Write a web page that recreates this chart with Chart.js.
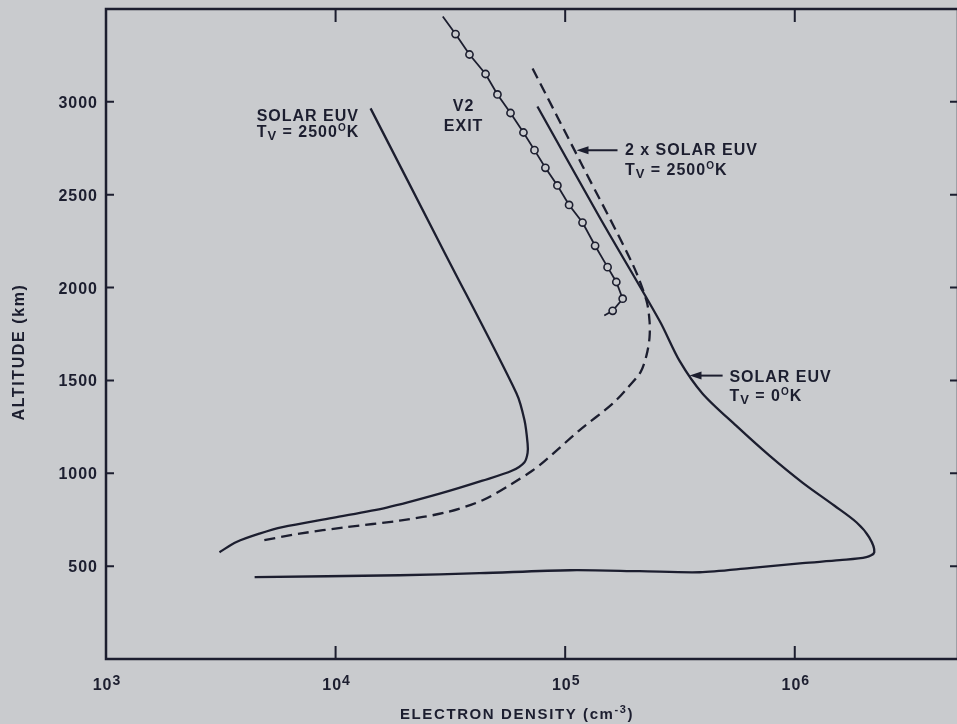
<!DOCTYPE html>
<html>
<head>
<meta charset="utf-8">
<script src="https://cdn.jsdelivr.net/npm/chart.js@4.4.1/dist/chart.umd.min.js"></script>
<style>
  html, body { margin: 0; padding: 0; background: #c9cbce; overflow: hidden; }
  #profile { display: block; }
</style>
</head>
<body>
<canvas id="profile" width="960" height="724"></canvas>
<script>
// electron density (cm-3) vs altitude (km)

// solar EUV, Tv = 2500 K
const euv2500Density = [1.42e4, 2.95e4, 6.14e4, 6.65e4, 6.86e4, 6.86e4, 6.65e4, 5.89e4,
                        4.36e4, 2.84e4, 1.67e4, 9.7e3, 5.87e3, 4.66e3, 3.7e3, 3.12e3];
const euv2500Alt = [2965, 2200, 1430, 1285, 1160, 1110, 1060, 1015,
                    960, 890, 815, 760, 710, 675, 630, 575];

// 2 x solar EUV, Tv = 2500 K (dashed)
const euv2xDensity = [7.21e4, 1.19e5, 1.96e5, 2.26e5, 2.33e5, 2.33e5, 2.26e5, 2.13e5, 1.87e5, 1.61e5,
                      1.15e5, 8.13e4, 7.21e4, 5.89e4, 4.37e4, 3.04e4, 1.9e4, 1.11e4, 6.97e3, 4.67e3];
const euv2xAlt = [3180, 2655, 2130, 1930, 1820, 1730, 1635, 1545, 1460, 1375,
                  1230, 1065, 1015, 945, 855, 790, 745, 710, 675, 635];

// solar EUV, Tv = 0 K
const euv0Density = [7.57e4, 1.41e5, 2.58e5, 3.15e5, 3.96e5, 5.57e5, 7.76e5, 1.08e6, 1.49e6, 1.86e6,
                     2.11e6, 2.22e6, 2.05e6, 1.57e6, 1.08e6, 6.35e5, 3.85e5, 2.11e5, 1.05e5, 4.24e4,
                     1.9e4, 4.44e3];
const euv0Alt = [2975, 2380, 1820, 1605, 1430, 1255, 1095, 950, 825, 735,
                 655, 575, 548, 532, 516, 489, 467, 473, 478, 462,
                 451, 441];

// V2 exit measurements
const v2Density = [2.93e4, 3.33e4, 3.83e4, 4.5e4, 5.07e4, 5.78e4, 6.58e4, 7.35e4, 8.2e4, 9.25e4,
                   1.04e5, 1.19e5, 1.35e5, 1.53e5, 1.67e5, 1.78e5, 1.61e5, 1.48e5];
const v2Alt = [3460, 3365, 3255, 3150, 3040, 2940, 2835, 2740, 2645, 2550,
               2445, 2350, 2225, 2110, 2030, 1940, 1875, 1850];

const xTicks = [1e3, 1e4, 1e5, 1e6];
const yTicks = [500, 1000, 1500, 2000, 2500, 3000];

const ink = '#1c1e2f';
const paper = '#c9cbce';
const FONT = '"Liberation Sans", Arial, sans-serif';

function pts(xs, ys) {
    return xs.map((v, i) => ({ x: v, y: ys[i] }));
}

// text pieces: [text, size, dy]
function drawRuns(ctx, runs, x, y, align) {
    let w = 0;
    runs.forEach(r => { ctx.font = 'bold ' + r[1] + 'px ' + FONT; w += ctx.measureText(r[0]).width; });
    let cx = align === 'center' ? x - w / 2 : x;
    runs.forEach(r => {
        ctx.font = 'bold ' + r[1] + 'px ' + FONT;
        ctx.fillText(r[0], cx, y + (r[2] || 0));
        cx += ctx.measureText(r[0]).width;
    });
}

function tvLine(temp) {
    return [['T', 16], ['V', 13, 3], [' = ' + temp, 16], ['O', 10, -6], ['K', 16]];
}

const labels = [
    { x: 4.53e3, y: 2896, gap: 16, align: 'left', lines: [[['SOLAR EUV', 16]], tvLine('2500')] },
    { x: 3.61e4, y: 2950, gap: 20, align: 'center', lines: [[['V2', 16]], [['EXIT', 16]]] },
    { x: 1.82e5, y: 2713, gap: 20, align: 'left', lines: [[['2 x SOLAR EUV', 16]], tvLine('2500')] },
    { x: 5.19e5, y: 1494, gap: 19, align: 'left', lines: [[['SOLAR EUV', 16]], tvLine('0')] }
];

const arrows = [
    { from: [1.69e5, 2740], to: [1.12e5, 2740] },
    { from: [4.85e5, 1526], to: [3.48e5, 1526] }
];

const decorations = {
    id: 'decorations',
    beforeDraw(chart) {
        const ctx = chart.ctx;
        ctx.save();
        ctx.fillStyle = paper;
        ctx.fillRect(0, 0, chart.width, chart.height);
        ctx.restore();
    },
    afterDraw(chart) {
        const { ctx, chartArea: a } = chart;
        const sx = chart.scales.x, sy = chart.scales.y;
        ctx.save();
        ctx.strokeStyle = ink;
        ctx.fillStyle = ink;
        ctx.lineCap = 'butt';

        // frame
        ctx.lineWidth = 2.5;
        ctx.strokeRect(a.left, a.top, a.right - a.left, a.bottom - a.top);

        // inward ticks
        ctx.lineWidth = 2;
        ctx.beginPath();
        xTicks.slice(1).forEach(v => {
            const px = sx.getPixelForValue(v);
            ctx.moveTo(px, a.bottom); ctx.lineTo(px, a.bottom - 13);
            ctx.moveTo(px, a.top); ctx.lineTo(px, a.top + 13);
        });
        yTicks.forEach(v => {
            const py = sy.getPixelForValue(v);
            ctx.moveTo(a.left, py); ctx.lineTo(a.left + 8, py);
            ctx.moveTo(a.right, py); ctx.lineTo(a.right - 8, py);
        });
        ctx.stroke();

        ctx.letterSpacing = '1px';
        ctx.textBaseline = 'alphabetic';

        // y tick labels
        ctx.textAlign = 'right';
        ctx.font = 'bold 16px ' + FONT;
        yTicks.forEach(v => {
            ctx.fillText(String(v), a.left - 8, sy.getPixelForValue(v) + 6);
        });
        ctx.textAlign = 'left';

        // x tick labels, 10 to the power n
        xTicks.forEach(v => {
            const n = Math.round(Math.log10(v));
            drawRuns(ctx, [['10', 16], [String(n), 14, -5]], sx.getPixelForValue(v) + 1, a.bottom + 31, 'center');
        });

        // axis titles
        ctx.letterSpacing = '1.6px';
        drawRuns(ctx, [['ELECTRON DENSITY (cm', 15], ['-3', 11, -6], [')', 15]], 400, 719, 'left');
        ctx.save();
        ctx.translate(24, 352);
        ctx.rotate(-Math.PI / 2);
        drawRuns(ctx, [['ALTITUDE (km)', 16]], 0, 0, 'center');
        ctx.restore();
        ctx.letterSpacing = '1px';

        // curve labels
        labels.forEach(l => {
            const px = sx.getPixelForValue(l.x), py = sy.getPixelForValue(l.y);
            l.lines.forEach((runs, i) => drawRuns(ctx, runs, px, py + i * l.gap, l.align));
        });

        // pointer arrows
        ctx.lineWidth = 2;
        arrows.forEach(ar => {
            const x0 = sx.getPixelForValue(ar.from[0]), y0 = sy.getPixelForValue(ar.from[1]);
            const x1 = sx.getPixelForValue(ar.to[0]), y1 = sy.getPixelForValue(ar.to[1]);
            ctx.beginPath();
            ctx.moveTo(x0, y0); ctx.lineTo(x1 + 8, y1);
            ctx.stroke();
            ctx.beginPath();
            ctx.moveTo(x1, y1);
            ctx.lineTo(x1 + 12, y1 - 4);
            ctx.lineTo(x1 + 12, y1 + 4);
            ctx.closePath();
            ctx.fill();
        });
        ctx.restore();
    }
};

const lastV2 = v2Density.length - 1;

const config = {
    type: 'scatter',
    data: {
        datasets: [
            {
                label: 'Solar EUV, Tv = 2500 K',
                data: pts(euv2500Density, euv2500Alt),
                showLine: true, borderColor: ink, borderWidth: 2.3,
                pointRadius: 0, tension: 0.3
            },
            {
                label: '2 x Solar EUV, Tv = 2500 K',
                data: pts(euv2xDensity, euv2xAlt),
                showLine: true, borderColor: ink, borderWidth: 2.3,
                borderDash: [11, 6], pointRadius: 0, tension: 0.3
            },
            {
                label: 'Solar EUV, Tv = 0 K',
                data: pts(euv0Density, euv0Alt),
                showLine: true, borderColor: ink, borderWidth: 2.3,
                pointRadius: 0, tension: 0.3
            },
            {
                label: 'V2 exit',
                data: pts(v2Density, v2Alt),
                showLine: true, borderColor: ink, borderWidth: 1.8, tension: 0,
                pointRadius: c => (c.dataIndex === 0 || c.dataIndex === lastV2) ? 0 : 3.6,
                pointBackgroundColor: paper, pointBorderColor: ink, pointBorderWidth: 1.6
            }
        ]
    },
    options: {
        responsive: false,
        animation: false,
        devicePixelRatio: 1,
        layout: { padding: { left: 106, top: 9, right: 2, bottom: 65 } },
        plugins: { legend: { display: false }, tooltip: { enabled: false } },
        scales: {
            x: { type: 'logarithmic', min: 1e3, max: 5.14e6, display: false },
            y: { type: 'linear', min: 0, max: 3500, display: false }
        }
    },
    plugins: [decorations]
};

const chart = new Chart(document.getElementById('profile').getContext('2d'), config);
</script>
</body>
</html>
